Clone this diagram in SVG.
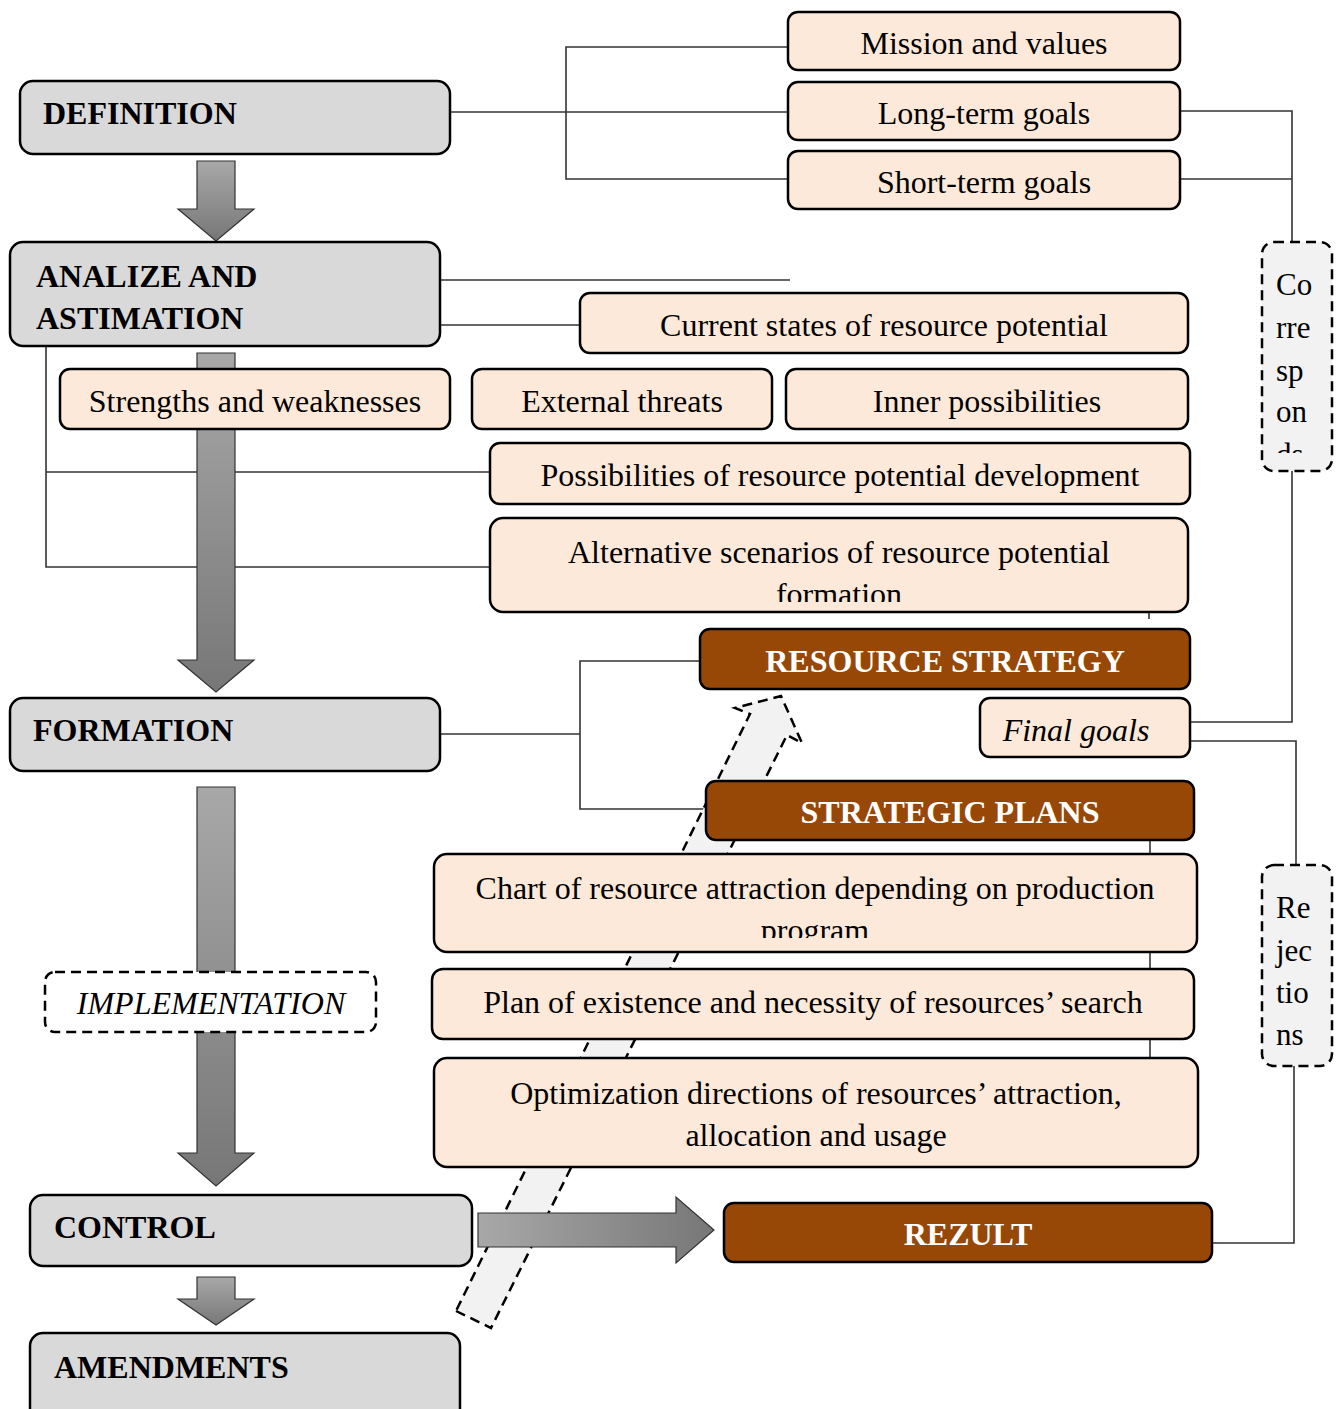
<svg xmlns="http://www.w3.org/2000/svg" width="1343" height="1409" viewBox="0 0 1343 1409">
<defs>
<linearGradient id="gv" x1="0" y1="0" x2="0" y2="1"><stop offset="0" stop-color="#a8a8a8"/><stop offset="1" stop-color="#777"/></linearGradient>
<linearGradient id="gh" x1="0" y1="0" x2="1" y2="0"><stop offset="0" stop-color="#a8a8a8"/><stop offset="1" stop-color="#777"/></linearGradient>
<style>
.g{fill:#d9d9d9;stroke:#000;stroke-width:2.5}
.b{fill:#fde9d9;stroke:#000;stroke-width:2.5}
.r{fill:#974806;stroke:#000;stroke-width:2.5}
.d{fill:#f2f2f2;stroke:#000;stroke-width:2.5;stroke-dasharray:10 6}
.t{font-family:"Liberation Serif",serif;font-size:32px;font-weight:bold;fill:#000}
.n{font-family:"Liberation Serif",serif;font-size:32px;fill:#000;text-anchor:middle}
.w{font-family:"Liberation Serif",serif;font-size:32px;font-weight:bold;fill:#fff;text-anchor:middle}
.v{font-family:"Liberation Serif",serif;font-size:31px;fill:#000}
.c{fill:none;stroke:#333;stroke-width:1.6}
.av{fill:url(#gv);stroke:#333;stroke-width:1.2}
.ah{fill:url(#gh);stroke:#333;stroke-width:1.2}
</style>
<clipPath id="cAlt"><rect x="490" y="518" width="698" height="84"/></clipPath>
<clipPath id="cChart"><rect x="434" y="854" width="763" height="84"/></clipPath>
<clipPath id="cCor"><rect x="1262" y="242" width="70" height="211"/></clipPath>
</defs>

<g id="connectors">
<polyline class="c" points="450,112 788,112"/>
<polyline class="c" points="788,47 566,47 566,179 788,179"/>
<polyline class="c" points="1180,111 1292,111 1292,242"/>
<polyline class="c" points="1180,179 1292,179"/>
<polyline class="c" points="1292,471 1292,722 1190,722"/>
<polyline class="c" points="440,280 790,280"/>
<polyline class="c" points="440,325 580,325"/>
<polyline class="c" points="46,346 46,567 490,567"/>
<polyline class="c" points="46,472 490,472"/>
<polyline class="c" points="1149,600 1149,619"/>
<polyline class="c" points="1150,830 1150,1060"/>
<polyline class="c" points="440,734 580,734"/>
<polyline class="c" points="700,661 580,661 580,809 708,809"/>
<polyline class="c" points="1190,741 1296,741 1296,865"/>
<polyline class="c" points="1294,1066 1294,1243 1212,1243"/>
</g>

<g id="arrow-def-ana"><polygon class="av" points="197,161 235,161 235,209 254,209 216,241 178,209 197,209"/></g>
<g id="arrow-ana-form"><polygon class="av" points="197,353 235,353 235,660 254,660 216,692 178,660 197,660"/></g>
<g id="arrow-form-ctrl"><polygon class="av" points="197,787 235,787 235,1153 254,1153 216,1186 178,1153 197,1153"/></g>
<g id="arrow-ctrl-amend"><polygon class="av" points="197,1277 235,1277 235,1299 254,1299 216,1325 178,1299 197,1299"/></g>

<g id="arrow-feedback"><polygon class="d" points="456,1311 491,1328 787,735 802,743 781,696 735,708 750,714"/></g>

<g id="definition"><rect class="g" x="20" y="81" width="430" height="73" rx="13"/><text class="t" x="43" y="124">DEFINITION</text></g>
<g id="mission"><rect class="b" x="788" y="12" width="392" height="58" rx="10"/><text class="n" x="984" y="54">Mission and values</text></g>
<g id="longterm"><rect class="b" x="788" y="82" width="392" height="58" rx="10"/><text class="n" x="984" y="124">Long-term goals</text></g>
<g id="shortterm"><rect class="b" x="788" y="151" width="392" height="58" rx="10"/><text class="n" x="984" y="193">Short-term goals</text></g>

<g id="corresponds"><rect class="d" x="1262" y="242" width="70" height="229" rx="12"/>
<g clip-path="url(#cCor)"><text class="v" x="1276" y="295">Co</text><text class="v" x="1276" y="338">rre</text><text class="v" x="1276" y="381">sp</text><text class="v" x="1276" y="422">on</text><text class="v" x="1276" y="465">ds</text></g></g>

<g id="analize"><rect class="g" x="10" y="242" width="430" height="104" rx="13"/><text class="t" x="36" y="287">ANALIZE AND</text><text class="t" x="36" y="329">ASTIMATION</text></g>
<g id="current"><rect class="b" x="580" y="293" width="608" height="60" rx="10"/><text class="n" x="884" y="336">Current states of resource potential</text></g>
<g id="strengths"><rect class="b" x="60" y="369" width="390" height="60" rx="10"/><text class="n" x="255" y="412">Strengths and weaknesses</text></g>
<g id="threats"><rect class="b" x="472" y="369" width="300" height="60" rx="10"/><text class="n" x="622" y="412">External threats</text></g>
<g id="inner"><rect class="b" x="786" y="369" width="402" height="60" rx="10"/><text class="n" x="987" y="412">Inner possibilities</text></g>
<g id="possibilities"><rect class="b" x="490" y="443" width="700" height="61" rx="10"/><text class="n" x="840" y="486">Possibilities of resource potential development</text></g>
<g id="alternative"><rect class="b" x="490" y="518" width="698" height="94" rx="13"/>
<g clip-path="url(#cAlt)"><text class="n" x="839" y="563">Alternative scenarios of resource potential</text><text class="n" x="839" y="605">formation</text></g></g>

<g id="resource-strategy"><rect class="r" x="700" y="629" width="490" height="60" rx="10"/><text class="w" x="945" y="672">RESOURCE STRATEGY</text></g>
<g id="final-goals"><rect class="b" x="980" y="698" width="210" height="59" rx="10"/><text class="n" x="1076" y="741" font-style="italic">Final goals</text></g>
<g id="formation"><rect class="g" x="10" y="698" width="430" height="73" rx="13"/><text class="t" x="33" y="741">FORMATION</text></g>
<g id="strategic-plans"><rect class="r" x="706" y="781" width="488" height="59" rx="10"/><text class="w" x="950" y="823">STRATEGIC PLANS</text></g>

<g id="rejections"><rect class="d" x="1262" y="865" width="70" height="201" rx="12"/>
<text class="v" x="1276" y="918">Re</text><text class="v" x="1276" y="961">jec</text><text class="v" x="1276" y="1003">tio</text><text class="v" x="1276" y="1045">ns</text></g>

<g id="chart"><rect class="b" x="434" y="854" width="763" height="98" rx="13"/>
<g clip-path="url(#cChart)"><text class="n" x="815" y="899">Chart of resource attraction depending on production</text><text class="n" x="815" y="941">program</text></g></g>
<g id="plan"><rect class="b" x="432" y="969" width="762" height="70" rx="11"/><text class="n" x="813" y="1013">Plan of existence and necessity of resources’ search</text></g>
<g id="optimization"><rect class="b" x="434" y="1058" width="764" height="109" rx="13"/><text class="n" x="816" y="1104">Optimization directions of resources’ attraction,</text><text class="n" x="816" y="1146">allocation and usage</text></g>

<g id="implementation"><rect x="45" y="972" width="331" height="60" rx="10" fill="#fff" stroke="#000" stroke-width="2.5" stroke-dasharray="10 6"/><text class="n" x="211" y="1014" font-style="italic">IMPLEMENTATION</text></g>

<g id="control"><rect class="g" x="30" y="1195" width="442" height="71" rx="13"/><text class="t" x="54" y="1238">CONTROL</text></g>
<g id="arrow-ctrl-rez"><polygon class="ah" points="478,1213 676,1213 676,1197 714,1230 676,1263 676,1247 478,1247"/></g>
<g id="rezult"><rect class="r" x="724" y="1203" width="488" height="59" rx="10"/><text class="w" x="968" y="1245">REZULT</text></g>
<g id="amendments"><rect class="g" x="30" y="1333" width="430" height="100" rx="13"/><text class="t" x="54" y="1378">AMENDMENTS</text></g>
</svg>
